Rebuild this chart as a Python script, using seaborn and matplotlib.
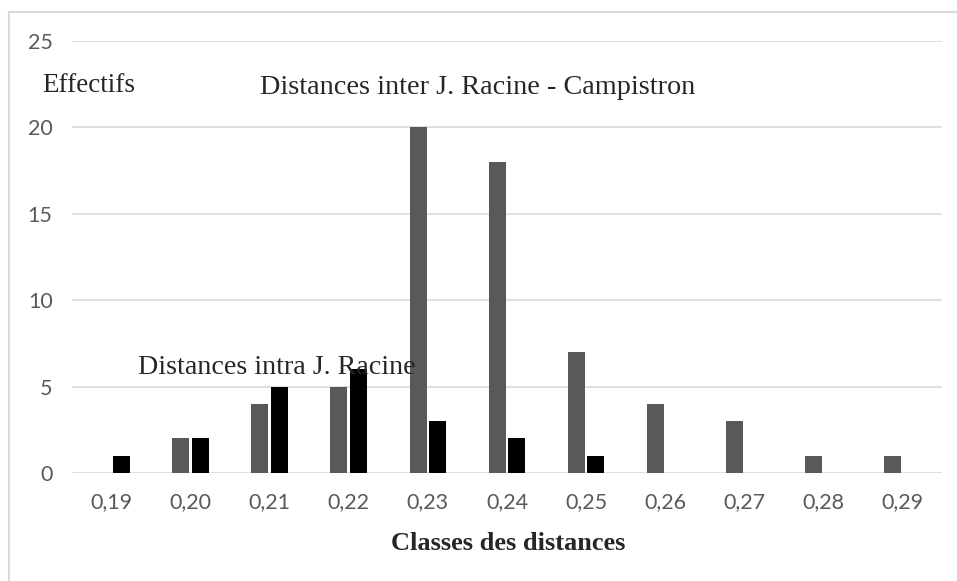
import pandas as pd
import matplotlib
matplotlib.use('Agg')
import matplotlib.pyplot as plt
import seaborn as sns
from matplotlib.patches import Rectangle

# Classes des distances et effectifs
classes = ['0,19', '0,20', '0,21', '0,22', '0,23', '0,24', '0,25', '0,26', '0,27', '0,28', '0,29']
inter_racine_campistron = [0, 2, 4, 5, 20, 18, 7, 4, 3, 1, 1]
intra_racine = [1, 2, 5, 6, 3, 2, 1, 0, 0, 0, 0]
y_ticks = [0, 5, 10, 15, 20, 25]

df = pd.DataFrame({
    'classe': classes * 2,
    'effectif': inter_racine_campistron + intra_racine,
    'serie': ['inter'] * len(classes) + ['intra'] * len(classes),
})

sns.set_style('white')
plt.rcParams['font.family'] = ['Lato', 'DejaVu Sans']

W, H = 957, 581
fig = plt.figure(figsize=(W / 100, H / 100), dpi=100)
ax = fig.add_axes([72 / W, (H - 473) / H, (942 - 72) / W, (473 - 41) / H])

sns.barplot(data=df, x='classe', y='effectif', hue='serie',
            palette=['#595959', '#000000'], width=0.5, gap=0.14,
            linewidth=0, legend=False, ax=ax)

ax.set_ylim(0, 25)
ax.set_yticks(y_ticks)
ax.set_xlim(-0.5, len(classes) - 0.5)
ax.yaxis.grid(True, color='#d9d9d9', linewidth=1.2)
ax.set_axisbelow(True)
for s in ax.spines.values():
    s.set_visible(False)
ax.tick_params(axis='both', length=0, labelsize=15.5, labelcolor='#595959')
ax.tick_params(axis='y', pad=14)
ax.tick_params(axis='x', pad=14)
ax.set_xlabel('')
ax.set_ylabel('')

serif = ['Liberation Serif', 'DejaVu Serif']
fig.text(42 / W, 1 - 85 / H, 'Effectifs', family=serif, fontsize=19.5, va='center', ha='left')
fig.text(260 / W, 1 - 87 / H, 'Distances inter J. Racine - Campistron', family=serif,
         fontsize=20.3, va='center', ha='left')
fig.text(138 / W, 1 - 368 / H, 'Distances intra J. Racine', family=serif,
         fontsize=20.2, va='center', ha='left', zorder=5)
fig.text(508 / W, 1 - 543 / H, 'Classes des distances', family=serif,
         fontsize=19, fontweight='bold', va='center', ha='center')

# cadre du graphique
fig.patches.append(Rectangle((9 / W, -0.1), 1.1, 1 - 12 / H + 0.1, transform=fig.transFigure,
                             fill=False, edgecolor='#d9d9d9', linewidth=1.5))

fig.savefig('out.png', dpi=100)
